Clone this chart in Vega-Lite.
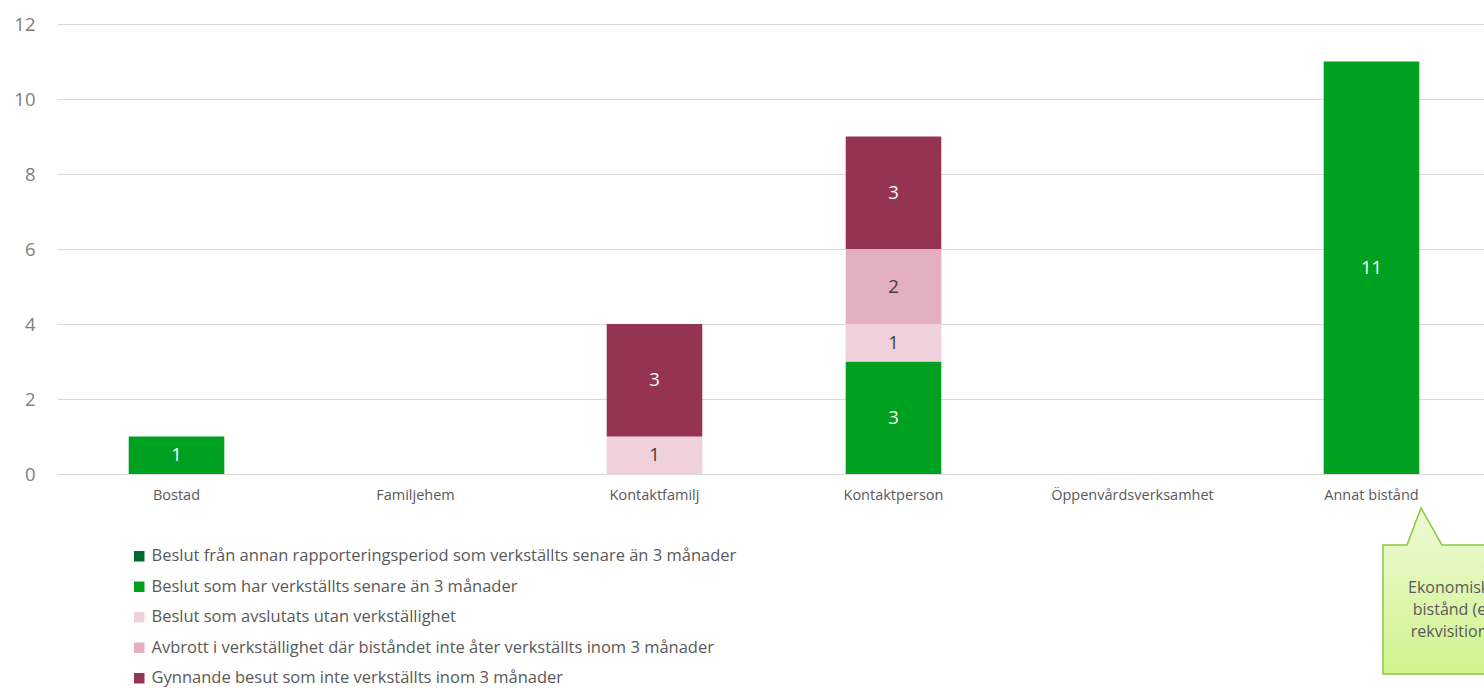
{
  "$schema": "https://vega.github.io/schema/vega-lite/v6.json",
  "width": 1434,
  "height": 450,
  "autosize": {"type": "none"},
  "padding": {"left": 57, "top": 24, "right": 0, "bottom": 214},
  "background": "white",
  "config": {"font": "Open Sans", "view": {"stroke": null}},
  "datasets": {
    "bars": [
      {"cat": "Bostad", "series": "Beslut som har verkställts senare än 3 månader", "k": 2, "n": 1},
      {"cat": "Kontaktfamilj", "series": "Beslut som avslutats utan verkställighet", "k": 3, "n": 1},
      {"cat": "Kontaktfamilj", "series": "Gynnande besut som inte verkställts inom 3 månader", "k": 5, "n": 3},
      {"cat": "Kontaktperson", "series": "Beslut som har verkställts senare än 3 månader", "k": 2, "n": 3},
      {"cat": "Kontaktperson", "series": "Beslut som avslutats utan verkställighet", "k": 3, "n": 1},
      {"cat": "Kontaktperson", "series": "Avbrott i verkställighet där biståndet inte åter verkställts inom 3 månader", "k": 4, "n": 2},
      {"cat": "Kontaktperson", "series": "Gynnande besut som inte verkställts inom 3 månader", "k": 5, "n": 3},
      {"cat": "Annat bistånd", "series": "Beslut som har verkställts senare än 3 månader", "k": 2, "n": 11}
    ],
    "note": [
      {"cat": "Annat bistånd", "v": 0, "label": ["Ekonomiskt", "bistånd (ej", "rekvisition)"]}
    ]
  },
  "layer": [
    {
      "data": {"name": "bars"},
      "transform": [
        {"stack": "n", "groupby": ["cat"], "sort": [{"field": "k", "order": "ascending"}], "as": ["y0", "y1"]}
      ],
      "mark": {"type": "bar"},
      "encoding": {
        "x": {
          "field": "cat", "type": "nominal", "title": null,
          "scale": {"domain": ["Bostad", "Familjehem", "Kontaktfamilj", "Kontaktperson", "Öppenvårdsverksamhet", "Annat bistånd"], "paddingInner": 0.6, "paddingOuter": 0.3},
          "axis": {"domain": false, "ticks": false, "labelAngle": 0, "labelFontSize": 14.5, "labelColor": "#595959", "labelPadding": 14, "grid": false}
        },
        "y": {
          "field": "y0", "type": "quantitative", "title": null,
          "scale": {"domain": [0, 12], "nice": false},
          "axis": {"values": [0, 2, 4, 6, 8, 10, 12], "domain": false, "ticks": false, "grid": true, "gridColor": "#D9D9D9", "gridWidth": 1, "labelFontSize": 18.5, "labelColor": "#808080", "labelPadding": 22}
        },
        "y2": {"field": "y1"},
        "color": {
          "field": "series", "type": "nominal",
          "scale": {
            "domain": [
              "Beslut från annan rapporteringsperiod som verkställts senare än 3 månader",
              "Beslut som har verkställts senare än 3 månader",
              "Beslut som avslutats utan verkställighet",
              "Avbrott i verkställighet där biståndet inte åter verkställts inom 3 månader",
              "Gynnande besut som inte verkställts inom 3 månader"
            ],
            "range": ["#00692F", "#00A021", "#F0D0DB", "#E4AFC0", "#943452"]
          },
          "legend": {
            "title": null, "orient": "none", "legendX": 74, "legendY": 524, "direction": "vertical",
            "symbolType": "square", "symbolSize": 110, "symbolStrokeWidth": 0,
            "labelFontSize": 16.5, "labelColor": "#595959", "labelLimit": 0, "labelOffset": 4, "rowPadding": 13.5
          }
        }
      }
    },
    {
      "data": {"name": "bars"},
      "transform": [
        {"stack": "n", "groupby": ["cat"], "sort": [{"field": "k", "order": "ascending"}], "as": ["y0", "y1"]},
        {"fold": ["y0", "y1"], "as": ["edge", "pos"]},
        {"aggregate": [{"op": "mean", "field": "pos", "as": "mid"}], "groupby": ["cat", "series", "k", "n"]}
      ],
      "mark": {"type": "text", "fontSize": 18.5, "baseline": "middle", "align": "center"},
      "encoding": {
        "x": {"field": "cat", "type": "nominal"},
        "y": {"field": "mid", "type": "quantitative"},
        "text": {"field": "n", "type": "quantitative"},
        "color": {"condition": {"test": "datum.k == 3 || datum.k == 4", "value": "#404040"}, "value": "#FFFFFF"}
      }
    },
    {
      "data": {"name": "note"},
      "mark": {
        "type": "point", "filled": true, "opacity": 1, "size": 4,
        "shape": "M11.5,71L35.5,71L49.5,34L70.5,71L160,71L160,200L11.5,200Z",
        "fill": {"gradient": "linear", "x1": 0, "y1": 0, "x2": 0, "y2": 1, "stops": [{"offset": 0, "color": "#EEFAD8"}, {"offset": 1, "color": "#D0F38C"}]},
        "stroke": "#8CC63E", "strokeWidth": 1.5, "strokeOpacity": 1
      },
      "encoding": {
        "x": {"field": "cat", "type": "nominal"},
        "y": {"field": "v", "type": "quantitative"}
      }
    },
    {
      "data": {"name": "note"},
      "mark": {"type": "text", "fontSize": 16, "lineHeight": 22, "align": "center", "baseline": "middle", "dx": 80, "dy": 114, "color": "#595959"},
      "encoding": {
        "x": {"field": "cat", "type": "nominal"},
        "y": {"field": "v", "type": "quantitative"},
        "text": {"field": "label"}
      }
    }
  ]
}
